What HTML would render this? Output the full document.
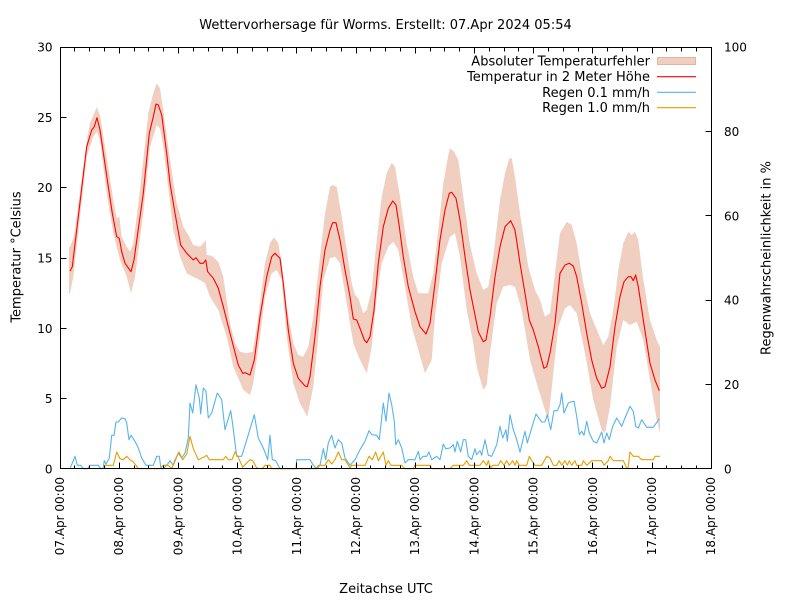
<!DOCTYPE html>
<html><head><meta charset="utf-8"><style>
html,body{margin:0;padding:0;background:#fff;}
svg{display:block;}
text{font-family:"DejaVu Sans","Liberation Sans",sans-serif;font-size:12px;fill:#000;}
text.big{font-size:13px;}
</style></head><body>
<svg width="800" height="600" viewBox="0 0 800 600" xmlns="http://www.w3.org/2000/svg">
<rect x="0" y="0" width="800" height="600" fill="#fff"/>
<text class="big" x="385.5" y="28.8" text-anchor="middle">Wettervorhersage für Worms. Erstellt: 07.Apr 2024 05:54</text>

<!-- band -->
<polygon fill="#f0cfc0" stroke="none" points="69,247 70,246.7 74,236.7 86.7,141.7 90,123.3 96.7,107.3 100,115 105,146.7 113.3,200 116.7,218.3 119.3,216.7 121.7,236.7 126.7,246.7 130,251.7 133.3,243.3 140,190 148.3,113.3 153.3,93.3 156.7,83.3 160,88.3 163.3,110 170,160 176.7,203.3 183.3,226.7 188.3,235 193.3,245 200,246.7 203.3,243.3 205.7,240 206.7,255 211.7,255.7 218.3,261.7 223.3,276.7 230,323.3 235,343.3 240,351.7 246.7,353.3 252.7,351.7 258.3,316.7 265,263.3 270,243.3 274,237.3 278.3,243.3 281.7,263.3 286.7,306.7 293.3,343.3 298.3,355 303.3,356.7 308.3,346.7 313.3,316.7 320,256.7 325,213.3 330,186.7 332.7,185 336.7,186.7 341.7,216.7 346.7,250 351.7,283.3 355,295 358.3,298.3 363.3,313.3 366.7,310 371.7,290 376.7,240 381.7,196.7 386.7,173.3 391.7,162.7 395,166.7 400,196.7 406.7,243.3 413.3,276.7 418.3,293.3 423.3,293.3 428.3,293.3 433.3,273.3 438.3,230 443.3,183.3 448.3,155 450,148.3 454,151.7 458.3,160 463.3,196.7 470,245 476.7,273.3 483.3,290 488.3,286.7 493.3,256.7 500,200 505,173.3 509.3,158.3 511.7,158.3 515,176.7 520,213.3 528.3,266.7 535,290 540,300 545,316.7 550,313.3 555,273.3 560,233.3 566.7,221.7 571.7,225 576.7,243.3 583.3,283.3 590,313.3 598.3,333.3 603.3,345 608.3,336.7 613.3,310 618.3,270 623.3,243.3 628.3,231.7 631.7,235 635,231.7 638.3,240 643.3,280 650,320 656.7,340 660,347 660,433 656.7,420 650,380 643.3,340 636.7,321.7 630,325 623.3,320 616.7,346.7 610,406.7 605,433.3 601.7,430 593.3,400 585,353.3 576.7,313.3 570,305 565,308.3 558.3,326.7 553.3,373.3 548.3,420 545,410 536.7,383.3 530,360 521.7,310 515,286.7 510,285 503.3,286.7 496.7,303.3 490,353.3 486.7,385 483.3,390 476.7,366.7 473.3,343.3 466.7,310 460,256.7 455,233.3 450,236.7 441.7,263.3 435,316.7 431.7,360 425,373.3 418.3,350 411.7,326.7 405,286.7 398.3,250 393.3,241.7 388.3,246.7 381.7,263.3 376.7,296.7 371.7,346.7 366.7,373.3 360,360 353.3,343.3 346.7,303.3 340,263.3 335,256.7 330,258.3 323.3,280 318.3,336.7 313.3,386.7 307.3,416.7 300,403.3 293.3,383.3 286.7,336.7 281.7,280 276.7,270 271.7,273.3 265,296.7 260,336.7 253.3,383.3 250,395 243.3,390 233.3,366.7 226.7,336.7 218.3,310 210,296.7 205,283.3 200,280 193.3,276.7 186.7,273.3 180,256.7 173.3,230 163.3,146.7 160,128.3 156.7,125 150,146.7 143.3,213.3 135,276.7 131,293.3 126.7,276.7 120,260 113.3,233.3 106.7,193.3 100,140 96.7,131.7 93.3,136.7 86.7,156.7 73.3,276.7 70,293.3 69,293"/>

<!-- temperature -->
<polyline fill="none" stroke="#ff0000" stroke-width="1.1" stroke-linejoin="round" points="70,271 72.3,266.7 86.7,146.7 91.7,130 94.3,126.7 97,117.7 100,130 108.3,186.7 112.3,213.3 116.7,236.7 119.3,238.3 121.7,251.7 125,263.3 131,271.7 134,260 143.3,193.3 149.3,133.3 153.3,116.7 156,104 158.3,105 161.7,115 166.7,153.3 170,183.3 175,213.3 180.7,245 186.7,253.3 193.3,260 196,257.7 200,263.3 203.3,263.3 205.7,260 207.7,271.7 213.3,278.3 218.3,288.3 223.3,306.7 230,333.3 238.3,365 242.7,373.3 245.3,372.7 250,375 254.3,360 260,316.7 266.7,276.7 271.7,256.7 275,253.3 280,258.3 283.3,283.3 288.3,330 293.3,363.3 298.3,378.3 305,386 307.3,386.7 310,376.7 315,336.7 320,286.7 325,250 330,230 332.7,222.7 336,222.7 340,240 345,270 350,296.7 353.3,319 356.7,320 360,328.3 364.3,340 366.7,342.7 370,336.7 374,310 378.3,263.3 383.3,226.7 388.3,208.3 392.7,201 396,205 399.3,226.7 403.3,256.7 408.3,286.7 415,311.7 420,326.7 426,334 430,323.3 435,283.3 440,240 445,210 449.3,193.3 451.7,192.3 456,198.3 460,220 465,256.7 470,290 478.3,331.7 483.3,341.7 486,340 490,316.7 495,276.7 500,246.7 505,226.7 510.7,220.7 515,230 520,263.3 525,293.3 529.3,320 533.3,330 538.3,346.7 541.7,360 544,368.3 546.7,366.7 550,353.3 555,323.3 560,273.3 565,265 569.3,263.3 573.3,266 576.7,276.7 581.7,303.3 586.7,333.3 591.7,360 596.7,378.3 601.7,388.3 605,386.7 610,366.7 615,326.7 620,296.7 624,281.7 628.3,276.7 631,276.7 633.3,280.7 635.7,275 638.3,286.7 643.3,320 650,363.3 655,380 659.3,390.7"/>

<!-- rain 0.1 -->
<polyline fill="none" stroke="#56b4e9" stroke-width="1.1" stroke-linejoin="round" points="70,468.7 75,456.3 77.3,465.3 80.7,465.3 83.3,468.7 88,468.7 90,465.3 98.3,465.3 100.7,468.7 103,468.7 104.3,460.7 106,464 109.3,458 111.7,435.3 114,435.3 116,422 118.3,422 121.7,418 125,418.7 126.7,423 129,439.7 131,435.3 135,441.3 138.3,448 141.7,458 146,465.3 153.3,465.3 156.7,456.3 159.3,456.3 161,468.7 163,468.7 166.7,465.3 170,460.7 173.3,465.3 178.3,453 181.7,458 185,453 188.3,438 190,403 192.7,413 196,384.7 199.3,398 200.7,414 203.3,388 206,391.3 208.3,418 211.7,413 214,404.7 217.3,393 221.7,399.7 225,429.7 230.7,410.7 232.7,424.7 236.7,456.3 241.7,456.3 248.3,434.7 254.3,414.7 258.3,438 263.3,448 267.7,459.7 270,435.3 272.3,459.7 275.7,460.7 280,468.7 296,468.7 296.7,459.7 310,459.7 313.3,465.3 316.7,468.7 320,465.3 323.3,448.7 325.7,459.7 328.3,443 331.7,435.3 335,448 338.3,439.7 341.7,443 345,458 350,465.3 355,459.7 360,449.7 365,441.3 369,430.7 371.7,434.7 376.7,435.3 379.3,439.7 383.3,403 386,421.3 389,393 391.7,404.7 394.3,421.3 395.7,444.7 398.3,439.7 401.7,448 405,463 408.3,459.7 415,459.7 418.3,451.3 420,459.7 423.3,456.3 426.7,456.3 429,452 431.7,459.7 436.7,456.3 440,459.7 443.3,444 445.7,448.7 450,448 453.3,444.7 455,452 457.3,441.3 460.7,452 463.3,439.7 465.7,439.7 468.3,456.3 471.7,459.7 475,448.7 476.7,454.7 480,450.7 481.7,455.3 485,439.7 488.3,455.3 491.7,456.3 496.7,444.7 500,426.3 502.7,438 506,429.7 507.3,441.3 510,414.7 513.3,429.7 516.7,439.7 520,452 525,431.3 527.3,443 531.7,428 536,414 538.3,417.3 541.7,422 545,422 547.3,414.7 550.7,429.7 554,410.7 557.3,410.7 560,404.7 561.7,393 564,413 568.3,403 570.7,402 574,401.3 576.7,416.3 579.3,434.7 581.7,431.3 584,435.3 586.7,421.3 589.3,433 593.3,441.3 596.7,443 601.7,432 604,443 606.7,433 609.3,439.7 612.7,426.3 616.7,418 621.7,426.3 625,418 630,406.3 633.3,411.3 635.7,426.3 638.3,428 641.7,419.7 646.7,427.3 653.3,427.3 659.3,418.7"/>

<!-- rain 1.0 -->
<polyline fill="none" stroke="#e69f00" stroke-width="1.1" stroke-linejoin="round" points="104.3,468.7 105,465.3 113.3,465.3 116.7,452 120,458.7 123.3,459.7 126.7,456.3 130,459.7 132.7,461.3 136,465.3 138.3,468.7 160,468.7 163.3,465.3 168.3,465.3 171.7,468.7 175,459.7 179,452 182.7,459.7 186.7,454 190,436.3 193.3,448.7 198.3,459.7 203.3,457.3 206.7,455.3 209.3,459.7 223.3,459.7 225.7,456.3 228.3,459.7 232,459.7 235,452 238.3,457.3 242.7,467.3 245,464.7 250,459.7 252.7,460.7 256.7,468 262,468.7 265,465.3 270,465.3 271.7,468.7 316,468.7 318.3,465.3 325,465.3 328.3,459.7 331.7,464 335,459.7 338.3,452 341.7,459.7 345,459.7 350,468 351.7,465.3 365,465.3 369,456.3 372.3,459.7 375.7,452 378.3,460.7 383.3,452 386,465.3 388.3,460.7 391,465.3 401.7,465.3 405,468.7 413.3,468.7 415,465.3 418.3,465.3 430,465.3 431.7,468.7 450,468.7 453.3,465.3 463.3,465.3 466.7,460.7 469.3,465.3 480,465.3 483.3,460.7 486.7,465.3 488.3,460.7 490.7,468 492.7,465.3 498.3,465.3 500.7,460.7 504,465.3 506.7,460.7 509.3,465.3 512.7,460.7 515,465.3 516.7,460.7 519.3,465.3 526.7,465.3 529.3,456.3 531.7,460.7 535,465.3 541.7,465.3 546.7,456.3 550,458 553.3,465.3 556.7,465.3 559.3,460.7 561.7,465.3 565,460.7 567.3,465.3 569.3,460.7 571.7,465.3 575,460.7 576.7,465.3 581.7,465.3 583.3,460.7 586.7,465.3 591.7,460.7 601.7,460.7 604,465.3 608.3,460.7 610,456.3 613.3,460.7 623.3,460.7 626.7,468 628,468.7 630,452 633.3,456.3 638.3,456.3 641.7,459.7 653.3,459.7 655,456.3 660,456.3"/>

<!-- border and ticks -->
<g stroke="#000" stroke-width="1" fill="none" shape-rendering="crispEdges">
<rect x="60.5" y="47.5" width="651" height="421"/>
<path d="M60.5,468.5V462.5M119.5,468.5V462.5M178.5,468.5V462.5M237.5,468.5V462.5M296.5,468.5V462.5M356.5,468.5V462.5M415.5,468.5V462.5M474.5,468.5V462.5M533.5,468.5V462.5M592.5,468.5V462.5M652.5,468.5V462.5M711.5,468.5V462.5
M60.5,47.5V53.5M119.5,47.5V53.5M178.5,47.5V53.5M237.5,47.5V53.5M296.5,47.5V53.5M356.5,47.5V53.5M415.5,47.5V53.5M474.5,47.5V53.5M533.5,47.5V53.5M592.5,47.5V53.5M652.5,47.5V53.5M711.5,47.5V53.5"/>
<path d="M74.5,468.5V465.5M89.5,468.5V465.5M104.5,468.5V465.5M134.5,468.5V465.5M148.5,468.5V465.5M163.5,468.5V465.5M193.5,468.5V465.5M208.5,468.5V465.5M222.5,468.5V465.5M252.5,468.5V465.5M267.5,468.5V465.5M282.5,468.5V465.5M311.5,468.5V465.5M326.5,468.5V465.5M341.5,468.5V465.5M370.5,468.5V465.5M385.5,468.5V465.5M400.5,468.5V465.5M430.5,468.5V465.5M444.5,468.5V465.5M459.5,468.5V465.5M489.5,468.5V465.5M504.5,468.5V465.5M518.5,468.5V465.5M548.5,468.5V465.5M563.5,468.5V465.5M578.5,468.5V465.5M607.5,468.5V465.5M622.5,468.5V465.5M637.5,468.5V465.5M666.5,468.5V465.5M681.5,468.5V465.5M696.5,468.5V465.5
M74.5,47.5V51.5M89.5,47.5V51.5M104.5,47.5V51.5M134.5,47.5V51.5M148.5,47.5V51.5M163.5,47.5V51.5M193.5,47.5V51.5M208.5,47.5V51.5M222.5,47.5V51.5M252.5,47.5V51.5M267.5,47.5V51.5M282.5,47.5V51.5M311.5,47.5V51.5M326.5,47.5V51.5M341.5,47.5V51.5M370.5,47.5V51.5M385.5,47.5V51.5M400.5,47.5V51.5M430.5,47.5V51.5M444.5,47.5V51.5M459.5,47.5V51.5M489.5,47.5V51.5M504.5,47.5V51.5M518.5,47.5V51.5M548.5,47.5V51.5M563.5,47.5V51.5M578.5,47.5V51.5M607.5,47.5V51.5M622.5,47.5V51.5M637.5,47.5V51.5M666.5,47.5V51.5M681.5,47.5V51.5M696.5,47.5V51.5"/>
<path d="M60.5,117.5H66.5M60.5,187.5H66.5M60.5,258.5H66.5M60.5,328.5H66.5M60.5,398.5H66.5
M711.5,131.5H705.5M711.5,215.5H705.5M711.5,300.5H705.5M711.5,384.5H705.5"/>
</g>

<!-- left tick labels -->
<g text-anchor="end">
<text x="52.5" y="51.5">30</text>
<text x="52.5" y="121.8">25</text>
<text x="52.5" y="192.2">20</text>
<text x="52.5" y="262.5">15</text>
<text x="52.5" y="332.8">10</text>
<text x="52.5" y="403.2">5</text>
<text x="52.5" y="473.5">0</text>
</g>
<!-- right tick labels -->
<g>
<text x="724" y="51.5">100</text>
<text x="724" y="135.9">80</text>
<text x="724" y="220.3">60</text>
<text x="724" y="304.7">40</text>
<text x="724" y="389.1">20</text>
<text x="724" y="473.5">0</text>
</g>

<!-- x tick labels -->
<g text-anchor="end">
<text transform="translate(64,477) rotate(-90)">07.Apr 00:00</text>
<text transform="translate(123.2,477) rotate(-90)">08.Apr 00:00</text>
<text transform="translate(182.4,477) rotate(-90)">09.Apr 00:00</text>
<text transform="translate(241.6,477) rotate(-90)">10.Apr 00:00</text>
<text transform="translate(300.8,477) rotate(-90)">11.Apr 00:00</text>
<text transform="translate(360,477) rotate(-90)">12.Apr 00:00</text>
<text transform="translate(419.2,477) rotate(-90)">13.Apr 00:00</text>
<text transform="translate(478.4,477) rotate(-90)">14.Apr 00:00</text>
<text transform="translate(537.6,477) rotate(-90)">15.Apr 00:00</text>
<text transform="translate(596.8,477) rotate(-90)">16.Apr 00:00</text>
<text transform="translate(656,477) rotate(-90)">17.Apr 00:00</text>
<text transform="translate(715.2,477) rotate(-90)">18.Apr 00:00</text>
</g>

<text class="big" transform="translate(20.5,257) rotate(-90)" text-anchor="middle">Temperatur °Celsius</text>
<text class="big" transform="translate(770.5,258) rotate(-90)" text-anchor="middle">Regenwahrscheinlichkeit in %</text>
<text class="big" x="386" y="592.8" text-anchor="middle">Zeitachse UTC</text>

<!-- legend -->
<g text-anchor="end">
<text class="big" x="650" y="65.5">Absoluter Temperaturfehler</text>
<text class="big" x="650" y="81.2">Temperatur in 2 Meter Höhe</text>
<text class="big" x="650" y="96.8">Regen 0.1 mm/h</text>
<text class="big" x="650" y="112.2">Regen 1.0 mm/h</text>
</g>
<rect x="657.5" y="57.5" width="38" height="7" fill="#f0cfc0" stroke="#e2b5a2" stroke-width="1"/>
<line x1="657" y1="76.7" x2="696" y2="76.7" stroke="#ff0000" stroke-width="1.1"/>
<line x1="657" y1="92.3" x2="696" y2="92.3" stroke="#56b4e9" stroke-width="1.1"/>
<line x1="657" y1="107.7" x2="696" y2="107.7" stroke="#e69f00" stroke-width="1.1"/>
</svg>
</body></html>
